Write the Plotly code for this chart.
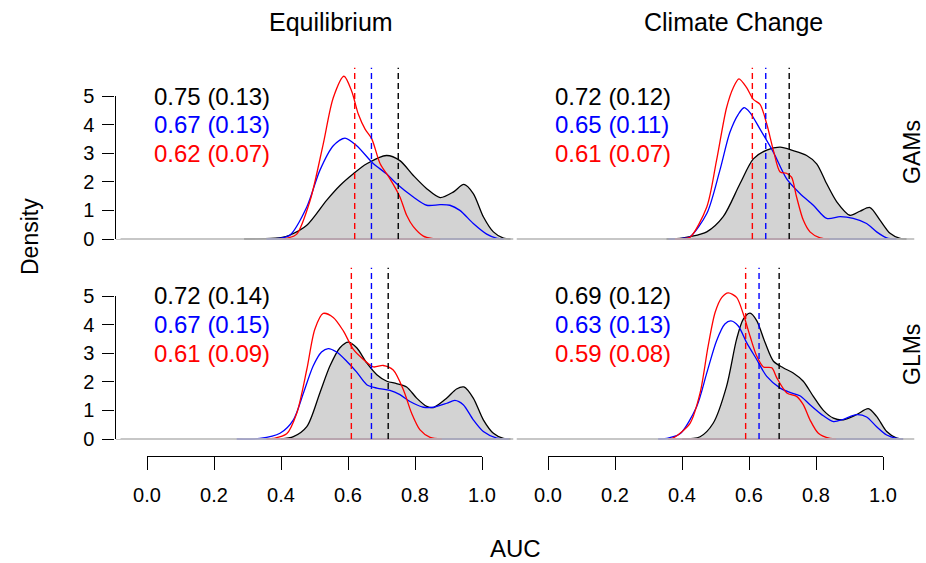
import plotly.graph_objects as go

# ---------------- data ----------------
col_titles = ["Equilibrium", "Climate Change"]
row_titles = ["GAMs", "GLMs"]
x_tick_vals = [0.0, 0.2, 0.4, 0.6, 0.8, 1.0]
x_tick_text = ["0.0", "0.2", "0.4", "0.6", "0.8", "1.0"]
y_tick_vals = [0, 1, 2, 3, 4, 5]
y_tick_text = ["0", "1", "2", "3", "4", "5"]

# Equilibrium / GAMs
eq_gam_black_x = [0.29, 0.35, 0.40, 0.427, 0.477, 0.536, 0.576, 0.616, 0.656, 0.715, 0.755, 0.795, 0.835, 0.875, 0.914, 0.946, 0.974, 1.004, 1.034, 1.064, 1.085]
eq_gam_black_y = [0, 0.01, 0.05, 0.14, 0.48, 1.35, 1.87, 2.28, 2.63, 2.92, 2.74, 2.22, 1.76, 1.45, 1.64, 1.91, 1.59, 0.78, 0.25, 0.03, 0]
eq_gam_blue_x = [0.357, 0.40, 0.427, 0.477, 0.516, 0.556, 0.591, 0.626, 0.676, 0.715, 0.745, 0.795, 0.835, 0.875, 0.904, 0.934, 0.974, 1.014, 1.045, 1.065]
eq_gam_blue_y = [0, 0.03, 0.14, 1.12, 2.40, 3.26, 3.53, 3.26, 2.63, 2.28, 1.93, 1.47, 1.18, 1.20, 1.18, 1.0, 0.54, 0.17, 0.02, 0]
eq_gam_red_x = [0.397, 0.42, 0.447, 0.487, 0.526, 0.556, 0.588, 0.611, 0.631, 0.651, 0.671, 0.696, 0.725, 0.755, 0.775, 0.795, 0.825, 0.85, 0.875]
eq_gam_red_y = [0, 0.03, 0.17, 1.35, 3.32, 4.94, 5.69, 5.17, 4.36, 3.84, 3.50, 2.63, 2.11, 1.47, 0.83, 0.43, 0.1, 0.02, 0]

# Climate Change / GAMs
cc_gam_black_x = [0.354, 0.40, 0.424, 0.474, 0.523, 0.573, 0.613, 0.653, 0.693, 0.732, 0.772, 0.802, 0.832, 0.862, 0.901, 0.931, 0.961, 0.991, 1.021, 1.051, 1.07]
cc_gam_black_y = [0, 0.03, 0.08, 0.25, 0.78, 1.93, 2.80, 3.11, 3.21, 3.09, 2.92, 2.63, 1.93, 1.30, 0.83, 0.97, 1.10, 0.66, 0.2, 0.02, 0]
cc_gam_blue_x = [0.36, 0.40, 0.424, 0.474, 0.513, 0.543, 0.568, 0.585, 0.603, 0.633, 0.673, 0.712, 0.752, 0.792, 0.832, 0.872, 0.911, 0.951, 0.981, 1.011, 1.04]
cc_gam_blue_y = [0, 0.02, 0.08, 0.89, 2.40, 3.73, 4.36, 4.59, 4.42, 3.84, 3.03, 2.11, 1.59, 1.18, 0.72, 0.78, 0.72, 0.54, 0.25, 0.04, 0]
cc_gam_red_x = [0.379, 0.40, 0.424, 0.474, 0.503, 0.533, 0.553, 0.570, 0.593, 0.613, 0.633, 0.653, 0.673, 0.693, 0.712, 0.727, 0.742, 0.762, 0.782, 0.812, 0.84]
cc_gam_red_y = [0, 0.01, 0.06, 1.12, 2.74, 4.59, 5.29, 5.60, 5.29, 4.88, 4.71, 4.02, 3.09, 2.34, 2.30, 2.16, 1.47, 0.66, 0.25, 0.04, 0]

# Equilibrium / GLMs
eq_glm_black_x = [0.40, 0.437, 0.477, 0.516, 0.546, 0.576, 0.601, 0.626, 0.656, 0.686, 0.716, 0.745, 0.775, 0.805, 0.835, 0.855, 0.895, 0.924, 0.946, 0.974, 1.004, 1.034, 1.064, 1.085]
eq_glm_black_y = [0, 0.08, 0.43, 1.61, 2.55, 3.19, 3.39, 3.19, 2.66, 2.25, 2.02, 1.94, 1.82, 1.43, 1.14, 1.10, 1.43, 1.75, 1.82, 1.43, 0.67, 0.2, 0.02, 0]
eq_glm_blue_x = [0.268, 0.337, 0.397, 0.437, 0.467, 0.496, 0.521, 0.541, 0.566, 0.596, 0.626, 0.656, 0.686, 0.725, 0.755, 0.785, 0.825, 0.855, 0.895, 0.919, 0.944, 0.974, 1.004, 1.044, 1.08]
eq_glm_blue_y = [0, 0.02, 0.2, 0.67, 1.61, 2.55, 3.04, 3.16, 3.04, 2.72, 2.34, 1.90, 1.78, 1.70, 1.55, 1.31, 1.11, 1.11, 1.25, 1.35, 1.20, 0.67, 0.26, 0.03, 0]
eq_glm_red_x = [0.357, 0.377, 0.417, 0.447, 0.477, 0.501, 0.526, 0.556, 0.586, 0.616, 0.646, 0.676, 0.705, 0.735, 0.765, 0.790, 0.815, 0.845, 0.88]
eq_glm_red_y = [0, 0.02, 0.18, 0.9, 2.43, 3.84, 4.39, 4.25, 3.78, 3.13, 2.78, 2.52, 2.57, 2.41, 1.73, 0.9, 0.32, 0.06, 0]

# Climate Change / GLMs
cc_glm_black_x = [0.40, 0.454, 0.493, 0.533, 0.563, 0.583, 0.603, 0.623, 0.648, 0.673, 0.702, 0.732, 0.762, 0.792, 0.822, 0.852, 0.882, 0.921, 0.956, 0.981, 1.011, 1.041, 1.06]
cc_glm_black_y = [0, 0.08, 0.55, 1.84, 3.49, 4.19, 4.40, 4.14, 3.37, 2.72, 2.49, 2.31, 2.02, 1.49, 1.0, 0.73, 0.67, 0.85, 1.06, 0.79, 0.26, 0.03, 0]
cc_glm_blue_x = [0.329, 0.354, 0.394, 0.444, 0.474, 0.503, 0.528, 0.546, 0.568, 0.593, 0.623, 0.653, 0.693, 0.722, 0.752, 0.782, 0.822, 0.852, 0.882, 0.921, 0.951, 0.981, 1.011, 1.041, 1.06]
cc_glm_blue_y = [0, 0.02, 0.18, 1.14, 2.31, 3.43, 4.02, 4.13, 3.95, 3.37, 2.78, 2.19, 1.78, 1.63, 1.51, 1.20, 0.81, 0.61, 0.69, 0.85, 0.77, 0.43, 0.14, 0.02, 0]
cc_glm_red_x = [0.359, 0.374, 0.424, 0.454, 0.478, 0.499, 0.519, 0.538, 0.563, 0.583, 0.603, 0.623, 0.643, 0.668, 0.683, 0.713, 0.742, 0.762, 0.782, 0.807, 0.842, 0.86]
cc_glm_red_y = [0, 0.04, 0.55, 1.61, 3.25, 4.43, 4.95, 5.11, 4.95, 4.37, 3.60, 2.90, 2.52, 2.49, 2.14, 1.61, 1.49, 1.20, 0.67, 0.2, 0.02, 0]

# means and sds (black, blue, red) per panel
eq_gam_means = [0.75, 0.67, 0.62]
eq_gam_sds = [0.13, 0.13, 0.07]
cc_gam_means = [0.72, 0.65, 0.61]
cc_gam_sds = [0.12, 0.11, 0.07]
eq_glm_means = [0.72, 0.67, 0.61]
eq_glm_sds = [0.14, 0.15, 0.09]
cc_glm_means = [0.69, 0.63, 0.59]
cc_glm_sds = [0.12, 0.13, 0.08]

# ---------------- layout geometry ----------------
W, H = 926, 563
FONT = "Liberation Sans, Arial, sans-serif"
XPX = 335.0      # px per AUC unit
YPX = 28.6       # px per density unit
XMIN, XMAX = -0.094, 1.094
YMIN, YMAX = -0.24, 6.0
col_zero = [147.0, 548.0]   # pixel x of AUC=0
row_zero = [239.0, 439.0]   # pixel y of density=0

series_colors = ["black", "blue", "red"]

panels = [
    (0, 0, [eq_gam_black_x, eq_gam_blue_x, eq_gam_red_x], [eq_gam_black_y, eq_gam_blue_y, eq_gam_red_y], eq_gam_means, eq_gam_sds),
    (0, 1, [cc_gam_black_x, cc_gam_blue_x, cc_gam_red_x], [cc_gam_black_y, cc_gam_blue_y, cc_gam_red_y], cc_gam_means, cc_gam_sds),
    (1, 0, [eq_glm_black_x, eq_glm_blue_x, eq_glm_red_x], [eq_glm_black_y, eq_glm_blue_y, eq_glm_red_y], eq_glm_means, eq_glm_sds),
    (1, 1, [cc_glm_black_x, cc_glm_blue_x, cc_glm_red_x], [cc_glm_black_y, cc_glm_blue_y, cc_glm_red_y], cc_glm_means, cc_glm_sds),
]

fig = go.Figure()
layout = dict(
    width=W, height=H, autosize=False,
    margin=dict(l=0, r=0, t=0, b=0, pad=0, autoexpand=False),
    paper_bgcolor="white", plot_bgcolor="white",
    showlegend=False,
    font=dict(family=FONT, color="black"),
)
annotations = []

def xdom(c):
    z = col_zero[c]
    return [(z + XMIN * XPX) / W, (z + XMAX * XPX) / W]

def ydom(r):
    z = row_zero[r]
    return [1 - (z - YMIN * YPX) / H, 1 - (z - YMAX * YPX) / H]

for i, (r, c, xs, ys, means, sds) in enumerate(panels):
    k = i + 1
    xa = "x" if k == 1 else f"x{k}"
    ya = "y" if k == 1 else f"y{k}"
    layout[f"xaxis{k}"] = dict(domain=xdom(c), range=[XMIN, XMAX], visible=False, anchor=ya,
                               fixedrange=True, automargin=False)
    layout[f"yaxis{k}"] = dict(domain=ydom(r), range=[YMIN, YMAX], visible=False, anchor=xa,
                               fixedrange=True, automargin=False)

    # black density filled grey
    fig.add_trace(go.Scatter(x=xs[0], y=ys[0], xaxis=xa, yaxis=ya, mode="lines",
                             fill="toself", fillcolor="#D3D3D3",
                             line=dict(color="black", width=1.3, shape="spline", smoothing=0.8),
                             hoverinfo="skip"))
    # blue and red densities
    for s in (1, 2):
        fig.add_trace(go.Scatter(x=xs[s], y=ys[s], xaxis=xa, yaxis=ya, mode="lines",
                                 line=dict(color=series_colors[s], width=1.3, shape="spline", smoothing=0.8),
                                 hoverinfo="skip"))
    # polygon bottom edges
    for s in (0, 1, 2):
        fig.add_trace(go.Scatter(x=[xs[s][0], xs[s][-1]], y=[0, 0], xaxis=xa, yaxis=ya, mode="lines",
                                 line=dict(color=series_colors[s], width=1.2), hoverinfo="skip"))
    # grey horizontal baseline (abline h=0)
    fig.add_trace(go.Scatter(x=[XMIN, XMAX], y=[0, 0], xaxis=xa, yaxis=ya, mode="lines",
                             line=dict(color="#BEBEBE", width=1.8), opacity=0.85, hoverinfo="skip"))
    # dashed mean lines
    for s in (2, 1, 0):
        fig.add_trace(go.Scatter(x=[means[s], means[s]], y=[0, YMAX], xaxis=xa, yaxis=ya, mode="lines",
                                 line=dict(color=series_colors[s], width=1.4, dash="6px,4px"),
                                 hoverinfo="skip"))
    # mean (sd) text
    for s in (0, 1, 2):
        annotations.append(dict(
            x=0.015, y=5 - s, xref=xa, yref=ya, xanchor="left", yanchor="middle",
            text=f"{means[s]:.2f} ({sds[s]:.2f})", showarrow=False,
            font=dict(size=24, color=series_colors[s], family=FONT)))

# bottom x axes (drawn only from 0 to 1)
axis_y_px = 455.5
for c in (0, 1):
    kx = 5 + c
    layout[f"xaxis{kx}"] = dict(
        domain=[col_zero[c] / W, (col_zero[c] + XPX) / W], range=[0, 1],
        anchor=f"y{kx}", showline=True, linecolor="black", linewidth=1.2,
        ticks="outside", ticklen=13, tickwidth=1.2, tickcolor="black",
        tickvals=x_tick_vals, ticktext=x_tick_text, showgrid=False, zeroline=False,
        tickfont=dict(size=20, family=FONT, color="black"), ticklabelstandoff=8,
        fixedrange=True, automargin=False)
    layout[f"yaxis{kx}"] = dict(domain=[1 - axis_y_px / H, 1 - (axis_y_px - 5) / H], range=[0, 1],
                                visible=False, anchor=f"x{kx}", fixedrange=True, automargin=False)
    fig.add_trace(go.Scatter(x=[0, 1], y=[0, 0], xaxis=f"x{kx}", yaxis=f"y{kx}", mode="markers",
                             marker=dict(opacity=0), hoverinfo="skip"))

# left y axes (drawn only from 0 to 5)
axis_x_px = col_zero[0] + XMIN * XPX
for r in (0, 1):
    ky = 7 + r
    layout[f"yaxis{ky}"] = dict(
        domain=[1 - row_zero[r] / H, 1 - (row_zero[r] - 5 * YPX) / H], range=[0, 5],
        anchor=f"x{ky}", showline=True, linecolor="black", linewidth=1.2,
        ticks="outside", ticklen=12, tickwidth=1.2, tickcolor="black",
        tickvals=y_tick_vals, ticktext=y_tick_text, showgrid=False, zeroline=False,
        tickfont=dict(size=20, family=FONT, color="black"), ticklabelstandoff=4,
        fixedrange=True, automargin=False)
    layout[f"xaxis{ky}"] = dict(domain=[axis_x_px / W, (axis_x_px + 5) / W], range=[0, 1],
                                visible=False, anchor=f"y{ky}", fixedrange=True, automargin=False)
    fig.add_trace(go.Scatter(x=[0, 0], y=[0, 5], xaxis=f"x{ky}", yaxis=f"y{ky}", mode="markers",
                             marker=dict(opacity=0), hoverinfo="skip"))

# titles and labels
title_x_px = [331, 733]
for c in (0, 1):
    annotations.append(dict(x=title_x_px[c] / W, y=1 - 22 / H, xref="paper", yref="paper",
                            xanchor="center", yanchor="middle", text=col_titles[c], showarrow=False,
                            font=dict(size=25, family=FONT, color="black")))
row_y_px = [152, 355]
for r in (0, 1):
    annotations.append(dict(x=912 / W, y=1 - row_y_px[r] / H, xref="paper", yref="paper",
                            xanchor="center", yanchor="middle", text=row_titles[r], showarrow=False,
                            textangle=-90, font=dict(size=23, family=FONT, color="black")))
annotations.append(dict(x=30 / W, y=1 - 237 / H, xref="paper", yref="paper", xanchor="center",
                        yanchor="middle", text="Density", showarrow=False, textangle=-90,
                        font=dict(size=23, family=FONT, color="black")))
annotations.append(dict(x=515 / W, y=1 - 548 / H, xref="paper", yref="paper", xanchor="center",
                        yanchor="middle", text="AUC", showarrow=False,
                        font=dict(size=24, family=FONT, color="black")))

layout["annotations"] = annotations
fig.update_layout(**layout)
fig.write_html("out.html")
